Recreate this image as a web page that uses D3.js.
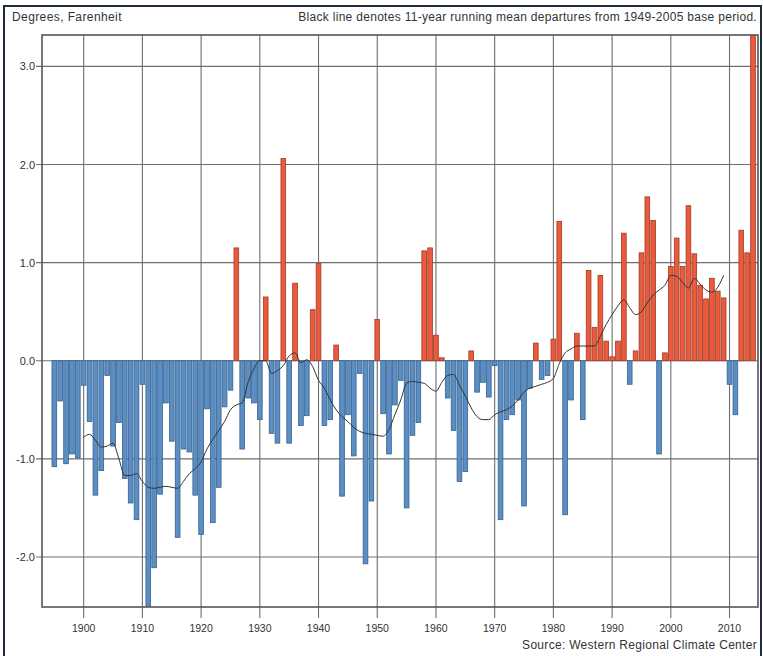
<!DOCTYPE html>
<html><head><meta charset="utf-8">
<script src="https://cdn.jsdelivr.net/npm/d3@7"></script>
<style>
html,body{margin:0;padding:0;background:#fff;}
svg{display:block;}
text{font-family:"Liberation Sans",Arial,sans-serif;fill:#333;}
</style></head>
<body>
<svg id="c" width="763" height="656"></svg>
<script>
// ---- data ----
const firstYear = 1895;
const departures = [
 -1.08,-0.41,-1.05,-0.95,-0.99, // 1895-1899
 -0.25,-0.62,-1.37,-1.12,-0.15,-0.87,-0.63,-1.20,-1.45,-1.62, // 1900s
 -0.24,-2.50,-2.11,-1.36,-0.43,-0.82,-1.80,-0.90,-0.93,-1.37, // 1910s
 -1.77,-0.49,-1.65,-1.29,-0.47,-0.30, 1.15,-0.90,-0.38,-0.43, // 1920s
 -0.60, 0.65,-0.74,-0.84, 2.06,-0.84, 0.79,-0.66,-0.56, 0.52, // 1930s
  0.99,-0.66,-0.60, 0.16,-1.38,-0.55,-0.97,-0.13,-2.07,-1.43, // 1940s
  0.42,-0.54,-0.95,-0.45,-0.20,-1.50,-0.76,-0.63, 1.12, 1.15, // 1950s
  0.26, 0.03,-0.38,-0.71,-1.23,-1.13, 0.10,-0.32,-0.22,-0.37, // 1960s
 -0.05,-1.62,-0.60,-0.55,-0.40,-1.48,-0.28, 0.18,-0.19,-0.15, // 1970s
  0.22, 1.42,-1.57,-0.40, 0.28,-0.60, 0.92, 0.34, 0.87, 0.20, // 1980s
  0.04, 0.20, 1.30,-0.24, 0.10, 1.10, 1.67, 1.43,-0.95, 0.08, // 1990s
  0.96, 1.25, 0.96, 1.58, 1.09, 0.77, 0.63, 0.84, 0.71, 0.64, // 2000s
 -0.24,-0.55, 1.33, 1.10, 3.32                               // 2010-2014
];
const meanFirstYear = 1900;
const runningMean = [
 -0.78,-0.75,-0.81,-0.88,-0.87,-0.84,-1.00,-1.17,-1.17,-1.15, // 1900s
 -1.23,-1.29,-1.30,-1.29,-1.28,-1.29,-1.30,-1.23,-1.15,-1.10, // 1910s
 -1.03,-0.90,-0.80,-0.71,-0.62,-0.50,-0.45,-0.43,-0.22,-0.08, // 1920s
  0.00, 0.00,-0.13,-0.10,-0.05, 0.05, 0.08,-0.02, 0.01,-0.06, // 1930s
 -0.20,-0.28,-0.40,-0.50,-0.57,-0.62,-0.68,-0.72,-0.74,-0.75, // 1940s
 -0.76,-0.77,-0.70,-0.55,-0.40,-0.23,-0.21,-0.22,-0.23,-0.28, // 1950s
 -0.31,-0.22,-0.15,-0.14,-0.25,-0.36,-0.48,-0.57,-0.60,-0.60, // 1960s
 -0.55,-0.52,-0.50,-0.46,-0.40,-0.32,-0.28,-0.26,-0.24,-0.22, // 1970s
 -0.18,-0.03, 0.08, 0.12, 0.15, 0.15, 0.15, 0.15, 0.25, 0.37, // 1980s
  0.47, 0.56, 0.62, 0.54, 0.47, 0.50, 0.59, 0.67, 0.72, 0.77, // 1990s
  0.87, 0.86, 0.80, 0.74, 0.84, 0.78, 0.72, 0.70, 0.75, 0.87  // 2000s
];
const yTicks = [-2, -1, 0, 1, 2, 3];
const yTickLabels = ["-2.0","-1.0","0.0","1.0","2.0","3.0"];
const xTicks = [1900,1910,1920,1930,1940,1950,1960,1970,1980,1990,2000,2010];
const unitLabel = "Degrees, Farenheit";
const noteLabel = "Black line denotes 11-year running mean departures from 1949-2005 base period.";
const sourceLabel = "Source: Western Regional Climate Center";

// ---- drawing ----
const svg = d3.select("#c");
const L = 42, R = 758, T = 35, B = 607;
const x = d3.scaleLinear().domain([1892.9, 2014.85]).range([L, R]);
const y = d3.scaleLinear().domain([-2.51, 3.32]).range([B, T]);

// outer frame
svg.append("rect").attr("x",4).attr("y",6).attr("width",757).attr("height",660)
  .attr("fill","#fff").attr("stroke","#1f2c3c").attr("stroke-width",2);

const bars = departures.map((v,i)=>({year: firstYear+i, value: v}));
const line = runningMean.map((v,i)=>({year: meanFirstYear+i, value: v}));

// gridlines
const grid = svg.append("g");
grid.selectAll("line.h").data(yTicks).join("line")
  .attr("x1", L-6).attr("x2", R).attr("y1", d=>y(d)).attr("y2", d=>y(d))
  .attr("stroke","#6e6e6e").attr("stroke-width",1.1);
grid.selectAll("line.v").data(xTicks).join("line")
  .attr("x1", d=>x(d)).attr("x2", d=>x(d)).attr("y1", T).attr("y2", B+11)
  .attr("stroke","#6e6e6e").attr("stroke-width",1.1);

// clip
svg.append("clipPath").attr("id","clip").append("rect")
  .attr("x",L).attr("y",T).attr("width",R-L).attr("height",B-T);

const bw = 4.7;
svg.append("g").attr("clip-path","url(#clip)")
  .selectAll("rect").data(bars).join("rect")
  .attr("x", d=>x(d.year)-bw/2)
  .attr("width", bw)
  .attr("y", d=>y(Math.max(0,d.value)))
  .attr("height", d=>Math.abs(y(d.value)-y(0)))
  .attr("fill", d=>d.value>=0 ? "#ec5a3c" : "#5b8fc4")
  .attr("stroke", d=>d.value>=0 ? "#9e3a26" : "#35618e")
  .attr("stroke-width",0.8);

// running mean line
svg.append("path").datum(line)
  .attr("fill","none").attr("stroke","#333").attr("stroke-width",1)
  .attr("d", d3.line().x(d=>x(d.year)).y(d=>y(d.value)).curve(d3.curveMonotoneX));

// plot frame
svg.append("rect").attr("x",L).attr("y",T).attr("width",R-L).attr("height",B-T)
  .attr("fill","none").attr("stroke","#555").attr("stroke-width",1.6);

// axes labels
svg.append("g").selectAll("text").data(yTicks).join("text")
  .attr("x", 35).attr("y", d=>y(d)+4).attr("text-anchor","end")
  .attr("font-size",11).text((d,i)=>yTickLabels[i]);
svg.append("g").selectAll("text").data(xTicks).join("text")
  .attr("x", d=>x(d)).attr("y", 632).attr("text-anchor","middle")
  .attr("font-size",10.5).text(d=>d);

svg.append("text").attr("x",12).attr("y",21).attr("font-size",12).attr("letter-spacing",0.4).text(unitLabel);
svg.append("text").attr("x",757).attr("y",21).attr("text-anchor","end").attr("font-size",12).attr("letter-spacing",0.3).text(noteLabel);
svg.append("text").attr("x",757).attr("y",649).attr("text-anchor","end").attr("font-size",12).attr("letter-spacing",0.3).text(sourceLabel);
</script>
</body></html>
